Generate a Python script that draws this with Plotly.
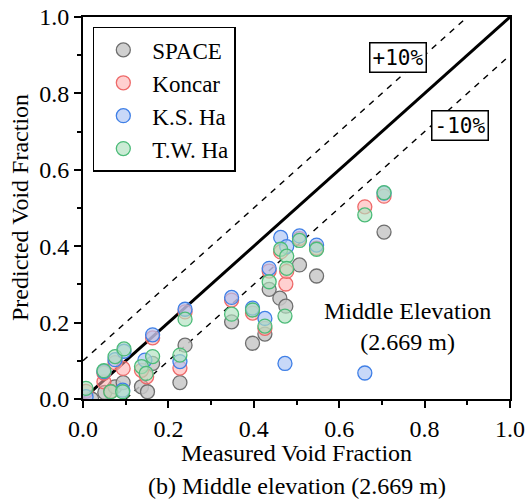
import plotly.graph_objects as go

# ---- data ----
space_x = [0.051, 0.075, 0.094, 0.137, 0.151, 0.163, 0.227, 0.239, 0.348, 0.397, 0.426, 0.436, 0.461, 0.475, 0.507, 0.547, 0.705, 0.02]
space_y = [0.017, 0.032, 0.043, 0.032, 0.019, 0.093, 0.043, 0.141, 0.202, 0.146, 0.170, 0.287, 0.264, 0.243, 0.351, 0.322, 0.437, 0.0]

koncar_x = [0.007, 0.049, 0.049, 0.075, 0.094, 0.149, 0.137, 0.163, 0.227, 0.239, 0.348, 0.397, 0.426, 0.436, 0.475, 0.477, 0.463, 0.507, 0.547, 0.660, 0.705, 0.065]
koncar_y = [0.020, 0.045, 0.068, 0.095, 0.080, 0.058, 0.075, 0.160, 0.081, 0.228, 0.259, 0.225, 0.185, 0.335, 0.301, 0.334, 0.385, 0.420, 0.395, 0.503, 0.531, 0.020]

ksha_x = [0.007, 0.049, 0.075, 0.096, 0.093, 0.145, 0.163, 0.227, 0.239, 0.348, 0.397, 0.426, 0.436, 0.463, 0.477, 0.507, 0.547, 0.473, 0.660, 0.705]
ksha_y = [0.006, 0.072, 0.103, 0.125, 0.023, 0.102, 0.168, 0.098, 0.235, 0.266, 0.238, 0.211, 0.342, 0.423, 0.399, 0.427, 0.403, 0.093, 0.068, 0.539]

twha_x = [0.007, 0.049, 0.065, 0.075, 0.093, 0.096, 0.137, 0.148, 0.163, 0.227, 0.239, 0.348, 0.397, 0.426, 0.436, 0.463, 0.477, 0.477, 0.473, 0.507, 0.547, 0.660, 0.705]
twha_y = [0.028, 0.074, 0.019, 0.111, 0.019, 0.131, 0.085, 0.067, 0.111, 0.115, 0.209, 0.222, 0.233, 0.191, 0.307, 0.392, 0.374, 0.342, 0.217, 0.415, 0.392, 0.482, 0.540]

ref_x = [0.0, 1.0]
ref_y = [0.0, 1.0]
plus_x = [0.0, 0.9]
plus_y = [0.1, 1.0]
minus_x = [0.1, 1.0]
minus_y = [0.0, 0.9]

series = [
    ("SPACE", space_x, space_y, "rgba(200,200,200,0.85)", "#6e6e6e"),
    ("Koncar", koncar_x, koncar_y, "rgba(255,170,170,0.55)", "#ee6a6a"),
    ("K.S. Ha", ksha_x, ksha_y, "rgba(170,195,245,0.65)", "#3f7fe6"),
    ("T.W. Ha", twha_x, twha_y, "rgba(175,225,190,0.65)", "#4cbb78"),
]

FONT = "Liberation Serif"
FS = 24

fig = go.Figure()
fig.add_trace(go.Scatter(x=ref_x, y=ref_y, mode="lines", line=dict(color="black", width=3), showlegend=False, hoverinfo="skip"))
fig.add_trace(go.Scatter(x=plus_x, y=plus_y, mode="lines", line=dict(color="black", width=1.5, dash="6px,6px"), showlegend=False, hoverinfo="skip"))
fig.add_trace(go.Scatter(x=minus_x, y=minus_y, mode="lines", line=dict(color="black", width=1.5, dash="6px,6px"), showlegend=False, hoverinfo="skip"))

for i, (name, xs, ys, fill, edge) in enumerate(series):
    fig.add_trace(go.Scatter(
        x=xs, y=ys, mode="markers", name=name,
        marker=dict(size=14, color=fill, line=dict(color=edge, width=1.3)),
    ))

axis_common = dict(
    range=[0, 1], dtick=0.2, tickformat=".1f", automargin=False,
    showline=True, linecolor="black", linewidth=2, mirror=True,
    ticks="outside", ticklen=7, tickwidth=1.5, tickcolor="black",
    minor=dict(dtick=0.1, ticks="outside", ticklen=4, tickwidth=1.5, tickcolor="black"),
    showgrid=False, zeroline=False,
    tickfont=dict(family=FONT, size=FS, color="black"),
)

fig.update_layout(
    width=526, height=500,
    margin=dict(l=83, r=16, t=17, b=101, autoexpand=False),
    plot_bgcolor="white", paper_bgcolor="white",
    xaxis=axis_common,
    yaxis=axis_common,
    font=dict(family=FONT, color="black"),
    legend=dict(
        x=0.023, y=0.974, xanchor="left", yanchor="top",
        bgcolor="white", bordercolor="black", borderwidth=1.5,
        font=dict(family=FONT, size=23, color="black"),
        itemwidth=48,
    ),
    annotations=[
        dict(x=0.738, y=0.895, xref="x", yref="y", text="+10%", showarrow=False,
             font=dict(family="DejaVu Sans Mono", size=21, color="black"),
             bgcolor="white", bordercolor="black", borderwidth=1.5, borderpad=2),
        dict(x=0.883, y=0.717, xref="x", yref="y", text="-10%", showarrow=False,
             font=dict(family="DejaVu Sans Mono", size=21, color="black"),
             bgcolor="white", bordercolor="black", borderwidth=1.5, borderpad=2),
        dict(x=0.759, y=0.19, xref="x", yref="y", text="Middle Elevation<br>(2.669 m)", showarrow=False,
             font=dict(family=FONT, size=FS, color="black"), align="center"),
        dict(x=0.5, y=-0.141, xref="paper", yref="paper", text="Measured Void Fraction", showarrow=False,
             font=dict(family=FONT, size=FS, color="black"), yanchor="middle"),
        dict(x=0.5, y=-0.228, xref="paper", yref="paper", text="(b) Middle elevation (2.669 m)", showarrow=False,
             font=dict(family=FONT, size=FS, color="black"), yanchor="middle"),
        dict(x=-0.1475, y=0.5, xref="paper", yref="paper", text="Predicted Void Fraction", showarrow=False,
             textangle=-90, font=dict(family=FONT, size=FS, color="black"), xanchor="center", yanchor="middle"),
    ],
)

fig.write_html(
    "out.html",
    config={"displayModeBar": False},
    post_script="document.body.style.margin='0';document.body.style.padding='0';document.body.style.overflow='hidden';",
)
